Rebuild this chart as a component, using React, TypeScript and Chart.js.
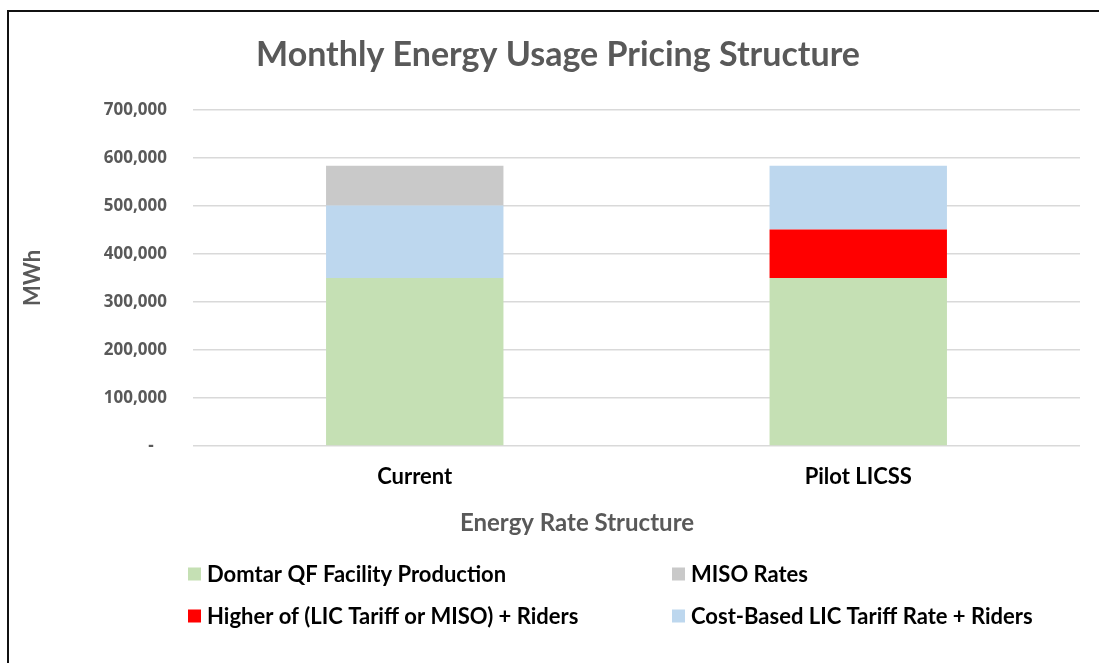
import React, { useEffect, useRef } from 'react';
import { Chart, registerables } from 'chart.js';

Chart.register(...registerables);

// ---- data ----
const categories = ['Current', 'Pilot LICSS'];
const seriesNames = [
  'Domtar QF Facility Production',
  'Higher of (LIC Tariff or MISO) + Riders',
  'Cost-Based LIC Tariff Rate + Riders',
  'MISO Rates',
];
const domtarQF = [350000, 350000];
const higherOfLIC = [0, 101000];
const costBasedLIC = [151000, 133000];
const misoRates = [83000, 0];
const yMax = 700000;
const yStep = 100000;
const chartTitle = 'Monthly Energy Usage Pricing Structure';
const xAxisTitle = 'Energy Rate Structure';
const yAxisTitle = 'MWh';
// legend reading order (indices into seriesNames)
const legendOrder = [0, 3, 1, 2];

const seriesValues = [domtarQF, higherOfLIC, costBasedLIC, misoRates];
const seriesColors = ['#C5E0B4', '#FF0000', '#BDD7EE', '#C9C9C9'];

const W = 1099;
const H = 663;

const decorPlugin = {
  id: 'decor',
  beforeDraw(chart: any) {
    const { ctx } = chart;
    ctx.save();
    ctx.fillStyle = '#ffffff';
    ctx.fillRect(0, 0, W, H);
    ctx.restore();
  },
  afterDraw(chart: any) {
    const { ctx } = chart;
    ctx.save();
    // frame
    ctx.fillStyle = '#111111';
    ctx.fillRect(7, 10, 2, H - 10);
    ctx.fillRect(7, 10, W - 7, 2);
    // title
    ctx.fillStyle = '#595959';
    ctx.textAlign = 'center';
    ctx.textBaseline = 'middle';
    ctx.font = 'bold 34px Lato';
    ctx.fillText(chartTitle, 558, 55);
    // x axis title
    ctx.font = 'bold 24px Lato';
    ctx.fillText(xAxisTitle, 577, 523);
    // legend
    const colX = [188, 672];
    const rowY = [574, 616];
    ctx.font = 'bold 22px Lato';
    ctx.textAlign = 'left';
    legendOrder.forEach((di, i) => {
      const col = i % 2;
      const row = Math.floor(i / 2);
      const x = colX[col];
      const y = rowY[row];
      ctx.fillStyle = seriesColors[di];
      ctx.fillRect(x, y - 6.5, 13, 13);
      ctx.fillStyle = '#000000';
      ctx.fillText(seriesNames[di], x + 19, y + 1);
    });
    ctx.restore();
  },
};

export default function App() {
  const ref = useRef<HTMLCanvasElement | null>(null);

  useEffect(() => {
    if (!ref.current) return;
    const chart = new Chart(ref.current, {
      type: 'bar',
      data: {
        labels: categories,
        datasets: seriesNames.map((name, i) => ({
          label: name,
          data: seriesValues[i],
          backgroundColor: seriesColors[i],
          borderWidth: 0,
          barPercentage: 0.4,
          categoryPercentage: 1.0,
        })),
      },
      options: {
        responsive: false,
        animation: false,
        devicePixelRatio: 1,
        layout: { padding: { top: 110, right: 19, bottom: 147, left: 0 } },
        plugins: {
          legend: { display: false },
          title: { display: false },
          tooltip: { enabled: false },
        },
        scales: {
          x: {
            stacked: true,
            grid: { display: false, drawTicks: false },
            border: { display: false },
            ticks: {
              color: '#000000',
              font: { family: 'Lato', weight: 'bold', size: 22 },
              padding: 18,
            },
            afterFit: (s: any) => {
              s.height = 70;
            },
          },
          y: {
            stacked: true,
            min: 0,
            max: yMax,
            grid: { color: '#D9D9D9', lineWidth: 1.5, drawTicks: false },
            border: { display: false },
            ticks: {
              stepSize: yStep,
              color: '#595959',
              font: { family: 'Open Sans', weight: 'bold', size: 17 },
              padding: 26,
              callback: (v: any) => (Number(v) === 0 ? '-   ' : Number(v).toLocaleString('en-US')),
            },
            title: {
              display: true,
              text: yAxisTitle,
              color: '#595959',
              font: { family: 'Lato', weight: 'bold', size: 22 },
              padding: { top: 20, bottom: 0 },
            },
            afterFit: (s: any) => {
              s.width = 193;
            },
          },
        },
      },
      plugins: [decorPlugin],
    });
    return () => chart.destroy();
  }, []);

  return (
    <div style={{ position: 'absolute', left: 0, top: 0, width: W, height: H, background: '#fff' }}>
      <canvas ref={ref} width={W} height={H} style={{ display: 'block', width: W, height: H }} />
    </div>
  );
}
